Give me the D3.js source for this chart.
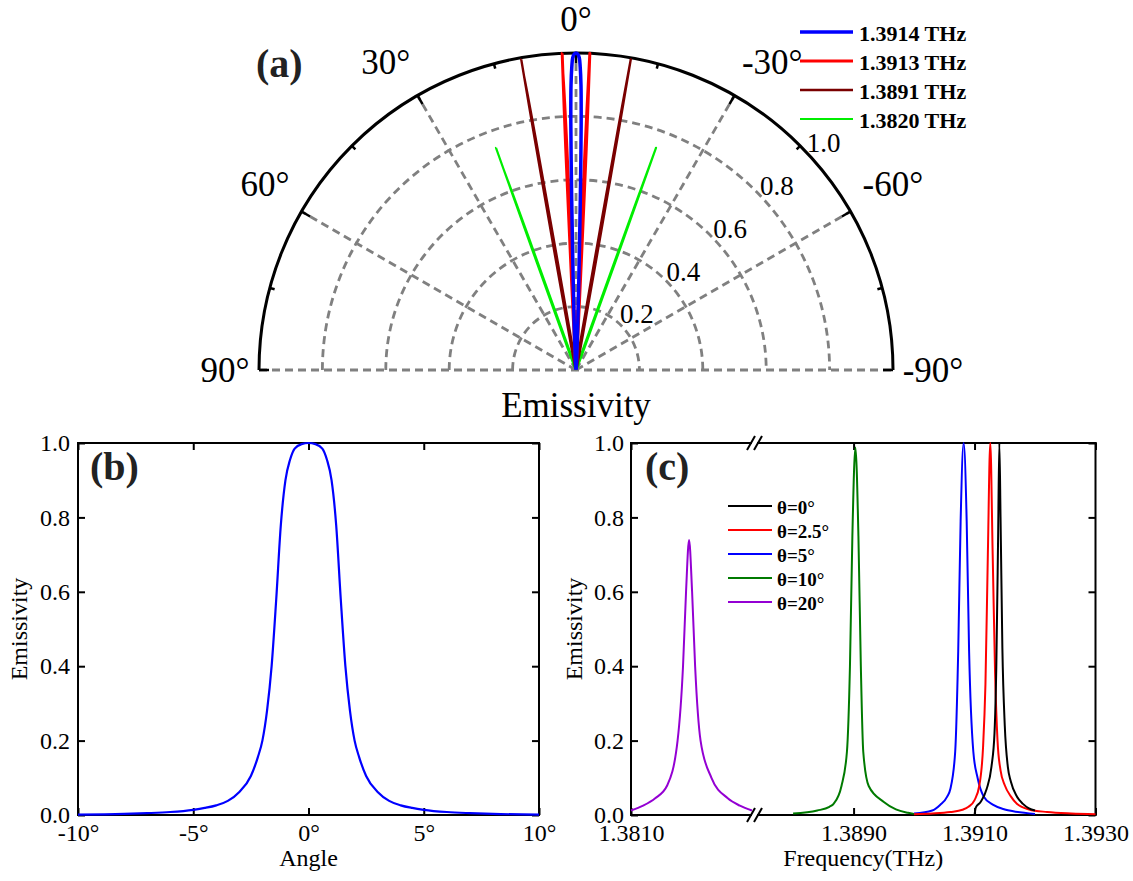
<!DOCTYPE html>
<html>
<head>
<meta charset="utf-8">
<script src="https://cdn.jsdelivr.net/npm/d3@7"></script>
<style>
  body { margin: 0; background: #fff; }
  svg { display: block; }
  svg text { font-family: "Liberation Serif", "Times New Roman", serif !important; fill: #000; }
</style>
</head>
<body>
<svg id="fig" width="1133" height="881"></svg>
<script>
// ---- data ----

// (b) emissivity vs angle at 1.3914 THz (also the blue lobe of (a))
const bAngle = [-10, -8, -7, -6, -5, -4.5, -4, -3.5, -3, -2.5, -2.2, -2, -1.8, -1.6, -1.4, -1.2, -1, -0.8, -0.6, -0.3, 0,
                0.3, 0.6, 0.8, 1, 1.2, 1.4, 1.6, 1.8, 2, 2.2, 2.5, 3, 3.5, 4, 4.5, 5, 6, 7, 8, 10];
const bEmis  = [0.001, 0.003, 0.005, 0.008, 0.014, 0.019, 0.026, 0.038, 0.062, 0.105, 0.155, 0.2, 0.28, 0.40, 0.58, 0.78, 0.90, 0.955, 0.985, 0.997, 1.0,
                0.997, 0.985, 0.955, 0.90, 0.78, 0.58, 0.40, 0.28, 0.2, 0.155, 0.105, 0.062, 0.038, 0.026, 0.019, 0.014, 0.008, 0.005, 0.003, 0.001];
const bTicks = [-10, -5, 0, 5, 10];

// (a) other lobes: angle (deg) / emissivity
const redAngle = [-10, -7, -5, -4, -3.5, -3, -2.8, -2.65, -2.5, -2.35, -2.2, -2, -1.5, -1, 0, 1, 1.5, 2, 2.2, 2.35, 2.5, 2.65, 2.8, 3, 3.5, 4, 5, 7, 10];
const redEmis  = [0.004, 0.01, 0.02, 0.035, 0.06, 0.15, 0.35, 0.7, 1.0, 0.7, 0.35, 0.2, 0.14, 0.12, 0.12, 0.12, 0.14, 0.2, 0.35, 0.7, 1.0, 0.7, 0.35, 0.15, 0.06, 0.035, 0.02, 0.01, 0.004];
const maroonAngle = [-20, -15, -12, -11, -10.4, -10.12, -10, -9.88, -9.6, -9, -8, -5, 0, 5, 8, 9, 9.6, 9.88, 10, 10.12, 10.4, 11, 12, 15, 20];
const maroonEmis  = [0.005, 0.015, 0.05, 0.12, 0.35, 0.75, 0.995, 0.75, 0.35, 0.12, 0.05, 0.012, 0.005, 0.012, 0.05, 0.12, 0.35, 0.75, 0.995, 0.75, 0.35, 0.12, 0.05, 0.015, 0.005];
const limeAngle = [-30, -25, -21.5, -20.4, -20.0, -19.8, -19.6, -19.2, -18, -15, -10, 0, 10, 15, 18, 19.2, 19.6, 19.8, 20.0, 20.4, 21.5, 25, 30];
const limeEmis  = [0.005, 0.015, 0.05, 0.15, 0.4, 0.745, 0.4, 0.15, 0.05, 0.015, 0.005, 0.003, 0.005, 0.015, 0.05, 0.15, 0.4, 0.745, 0.4, 0.15, 0.05, 0.015, 0.005];
const polarLabels = ['1.3914 THz', '1.3913 THz', '1.3891 THz', '1.3820 THz'];
const polarRings = [0.2, 0.4, 0.6, 0.8, 1.0];
const polarSpokes = [90, 60, 30, 0, -30, -60, -90];

// (c) emissivity vs frequency (THz)
const f0 = [1.3910, 1.39102, 1.3911, 1.3912, 1.39128, 1.39133, 1.39136, 1.39139, 1.39141, 1.39143, 1.39146, 1.3915, 1.39155, 1.3916, 1.3917, 1.3918, 1.3919, 1.3920];
const e0 = [0.0, 0.02, 0.035, 0.07, 0.13, 0.22, 0.4, 0.75, 1.0, 0.8, 0.45, 0.24, 0.13, 0.09, 0.05, 0.03, 0.018, 0.012];
const f25 = [1.3900, 1.3903, 1.3906, 1.3908, 1.3909, 1.3910, 1.39108, 1.39114, 1.39118, 1.39122, 1.39126, 1.3913, 1.39134, 1.39138, 1.39143, 1.3915, 1.3916, 1.3917, 1.3919, 1.3922, 1.3926, 1.3930];
const e25 = [0.002, 0.004, 0.008, 0.014, 0.022, 0.04, 0.08, 0.18, 0.35, 0.7, 1.0, 0.7, 0.38, 0.2, 0.12, 0.08, 0.05, 0.03, 0.015, 0.008, 0.004, 0.002];
const f5 = [1.3900, 1.3903, 1.39043, 1.39055, 1.3906, 1.39068, 1.39073, 1.39077, 1.39082, 1.39087, 1.39091, 1.39098, 1.39105, 1.39115, 1.39131, 1.3915, 1.39164, 1.3920];
const e5 = [0.004, 0.012, 0.027, 0.05, 0.07, 0.17, 0.44, 0.79, 1.0, 0.79, 0.44, 0.17, 0.1, 0.05, 0.027, 0.015, 0.01, 0.003];
const f10 = [1.3880, 1.3884, 1.3886, 1.38867, 1.3888, 1.38889, 1.38894, 1.38898, 1.38903, 1.38908, 1.38912, 1.38916, 1.38925, 1.3895, 1.3897, 1.3899, 1.3900];
const e10 = [0.004, 0.012, 0.022, 0.03, 0.078, 0.17, 0.4, 0.75, 0.988, 0.75, 0.4, 0.17, 0.078, 0.035, 0.015, 0.006, 0.003];
const f20 = [1.3810, 1.3812, 1.3814, 1.3816, 1.38177, 1.38186, 1.38191, 1.38196, 1.38201, 1.38206, 1.38215, 1.38233, 1.3826, 1.3828, 1.3830];
const e20 = [0.012, 0.025, 0.045, 0.08, 0.2, 0.4, 0.6, 0.739, 0.6, 0.4, 0.2, 0.1, 0.045, 0.025, 0.012];
const cLabels = ['θ=0°', 'θ=2.5°', 'θ=5°', 'θ=10°', 'θ=20°'];
const cTicksLeft = [1.3810];
const cTicksRight = [1.3890, 1.3910, 1.3930];
const yTicks = [0, 0.2, 0.4, 0.6, 0.8, 1.0];

const zip = (a, b) => a.map((v, i) => [v, b[i]]);

const svg = d3.select('#fig');

// ================= (a) polar =================
const cx = 576, cy = 370, R = 317;
const rP = d3.scaleLinear().domain([0, 1]).range([0, R]);
const rad = a => -a * Math.PI / 180;            // positive angles to the left
const pt = (a, r) => [r * Math.sin(rad(a)), -r * Math.cos(rad(a))];

const gP = svg.append('g').attr('transform', `translate(${cx},${cy})`);
const GRID = '#808080';

polarRings.slice(0, 4).forEach(v => {
  const p = d3.path();
  p.arc(0, 0, rP(v), Math.PI, 2 * Math.PI);
  gP.append('path').attr('d', p.toString()).attr('fill', 'none')
    .attr('stroke', GRID).attr('stroke-width', 2.8).attr('stroke-dasharray', '8,5');
});
polarSpokes.filter(a => Math.abs(a) < 90).forEach(a => {
  const [x, y] = pt(a, R);
  gP.append('line').attr('x1', 0).attr('y1', 0).attr('x2', x).attr('y2', y)
    .attr('stroke', GRID).attr('stroke-width', 2.8).attr('stroke-dasharray', '8,5');
});
gP.append('line').attr('x1', -R).attr('y1', 0).attr('x2', R).attr('y2', 0)
  .attr('stroke', GRID).attr('stroke-width', 2.8).attr('stroke-dasharray', '8,5');

// outer arc + ticks
{
  const p = d3.path();
  p.arc(0, 0, R, Math.PI, 2 * Math.PI);
  gP.append('path').attr('d', p.toString()).attr('fill', 'none').attr('stroke', '#000').attr('stroke-width', 3);
}
d3.range(-90, 91, 15).forEach(a => {
  const len = a % 30 === 0 ? 10 : 5;
  const [x1, y1] = pt(a, R), [x2, y2] = pt(a, R - len);
  gP.append('line').attr('x1', x1).attr('y1', y1).attr('x2', x2).attr('y2', y2)
    .attr('stroke', '#000').attr('stroke-width', 2.5);
});

// angle labels
const nudge = {0: 0, 30: 1.7, 60: -0.8, 90: 0};
polarSpokes.forEach(a => {
  const abs = Math.abs(a);
  const off = abs === 0 || abs === 90 ? 34 : 45;
  const [x, y] = pt(Math.sign(a) * (abs + nudge[abs]), R + off);
  gP.append('text').attr('x', x + (a < 0 ? 6 : 0)).attr('y', y)
    .attr('text-anchor', 'middle').attr('dominant-baseline', 'central')
    .style('font-size', '35px').text(a + '°');
});
// radial labels
polarRings.forEach(v => {
  const [x, y] = pt(-47.5, rP(v) + 19);
  gP.append('text').attr('x', x).attr('y', y)
    .attr('text-anchor', 'middle').attr('dominant-baseline', 'central')
    .style('font-size', '27px').text(v.toFixed(1));
});

const radial = d3.lineRadial()
  .angle(d => rad(d[0])).radius(d => rP(d[1]))
  .curve(d3.curveCatmullRom.alpha(0.5));
const polarSeries = [
  {data: zip(limeAngle, limeEmis), color: '#00ee00', w: 2.2},
  {data: zip(maroonAngle, maroonEmis), color: '#7a0000', w: 2.4},
  {data: zip(redAngle, redEmis), color: '#ff0000', w: 3},
  {data: zip(bAngle, bEmis), color: '#0000ff', w: 3.5}
];
polarSeries.forEach(s => {
  gP.append('path').attr('d', radial(s.data)).attr('fill', 'none')
    .attr('stroke', s.color).attr('stroke-width', s.w).attr('stroke-linejoin', 'round');
});

svg.append('text').attr('x', cx).attr('y', 417).attr('text-anchor', 'middle')
  .style('font-size', '35px').text('Emissivity');
svg.append('text').attr('x', 256).attr('y', 77)
  .style('font-size', '40px').style('font-weight', 'bold').style('fill', '#222').text('(a)');

// legend (a)
const legA = svg.append('g').attr('transform', 'translate(800,32)');
[polarSeries[3], polarSeries[2], polarSeries[1], polarSeries[0]].forEach((s, i) => {
  const g = legA.append('g').attr('transform', `translate(0,${i * 29})`);
  g.append('line').attr('x1', 0).attr('x2', 53).attr('stroke', s.color).attr('stroke-width', s.w);
  g.append('text').attr('x', 59).attr('y', 1).attr('dominant-baseline', 'central')
    .style('font-size', '22px').style('font-weight', 'bold').text(polarLabels[i]);
});

// ================= shared axis helpers =================
function styleAxis(g) {
  g.select('.domain').remove();
  g.attr('font-family', null).attr('font-size', null);
  g.selectAll('.tick line').attr('stroke', '#000').attr('stroke-width', 2);
  g.selectAll('.tick text').style('font-size', '24px').attr('fill', '#000');
}

// ================= (b) =================
const xB = d3.scaleLinear().domain([-10, 10]).range([78, 539]);
const yB = d3.scaleLinear().domain([0, 1]).range([815, 443]);
const gB = svg.append('g');

gB.append('g').attr('transform', 'translate(0,815)')
  .call(d3.axisBottom(xB).tickValues(bTicks).tickFormat(d => d + '°').tickSizeInner(-7).tickSizeOuter(0).tickPadding(9))
  .call(styleAxis);
gB.append('g').attr('transform', 'translate(0,443)')
  .call(d3.axisTop(xB).tickValues(bTicks).tickFormat('').tickSizeInner(-7).tickSizeOuter(0))
  .call(styleAxis);
gB.append('g').attr('transform', 'translate(78,0)')
  .call(d3.axisLeft(yB).tickValues(yTicks).tickFormat(d3.format('.1f')).tickSizeInner(-7).tickSizeOuter(0).tickPadding(8))
  .call(styleAxis);
gB.append('g').attr('transform', 'translate(539,0)')
  .call(d3.axisRight(yB).tickValues(yTicks).tickFormat('').tickSizeInner(-7).tickSizeOuter(0))
  .call(styleAxis);
gB.append('rect').attr('x', 78).attr('y', 443).attr('width', 539 - 78).attr('height', 815 - 443)
  .attr('fill', 'none').attr('stroke', '#000').attr('stroke-width', 2);

const lineB = d3.line().x(d => xB(d[0])).y(d => yB(d[1])).curve(d3.curveMonotoneX);
gB.append('path').attr('d', lineB(zip(bAngle, bEmis))).attr('fill', 'none')
  .attr('stroke', '#0000ff').attr('stroke-width', 2.2);

gB.append('text').attr('x', 90).attr('y', 480)
  .style('font-size', '40px').style('font-weight', 'bold').style('fill', '#222').text('(b)');
gB.append('text').attr('x', (78 + 539) / 2).attr('y', 866).attr('text-anchor', 'middle')
  .style('font-size', '24px').text('Angle');
gB.append('text').attr('transform', `translate(27,${(443 + 815) / 2}) rotate(-90)`).attr('text-anchor', 'middle')
  .style('font-size', '24px').text('Emissivity');

// ================= (c) =================
const cL = 631, cR = 1095.5, brk = 755;
const xCL = d3.scaleLinear().domain([1.3810, 1.38305]).range([cL, brk]);
const xCR = d3.scaleLinear().domain([1.38737, 1.3930]).range([brk, cR]);
const yC = d3.scaleLinear().domain([0, 1]).range([815, 443]);
const gC = svg.append('g');
const fmt4 = d3.format('.4f');

[[xCL, cTicksLeft], [xCR, cTicksRight]].forEach(([sc, tv]) => {
  gC.append('g').attr('transform', 'translate(0,815)')
    .call(d3.axisBottom(sc).tickValues(tv).tickFormat(fmt4).tickSizeInner(-7).tickSizeOuter(0).tickPadding(9))
    .call(styleAxis);
  gC.append('g').attr('transform', 'translate(0,443)')
    .call(d3.axisTop(sc).tickValues(tv).tickFormat('').tickSizeInner(-7).tickSizeOuter(0))
    .call(styleAxis);
});
gC.append('g').attr('transform', `translate(${cL},0)`)
  .call(d3.axisLeft(yC).tickValues(yTicks).tickFormat(d3.format('.1f')).tickSizeInner(-7).tickSizeOuter(0).tickPadding(7))
  .call(styleAxis);
gC.append('g').attr('transform', `translate(${cR},0)`)
  .call(d3.axisRight(yC).tickValues(yTicks).tickFormat('').tickSizeInner(-7).tickSizeOuter(0))
  .call(styleAxis);

// frame with axis break
const frame = [
  [cL, 443, cL, 815], [cR, 443, cR, 815],
  [cL, 443, brk - 4, 443], [brk + 3, 443, cR, 443],
  [cL, 815, brk - 4, 815], [brk + 3, 815, cR, 815]
];
frame.forEach(s => gC.append('line').attr('x1', s[0]).attr('y1', s[1]).attr('x2', s[2]).attr('y2', s[3])
  .attr('stroke', '#000').attr('stroke-width', 2).attr('stroke-linecap', 'square'));
[443, 815].forEach(y => {
  [-4, 3].forEach(dx => {
    gC.append('line').attr('x1', brk + dx - 4).attr('y1', y + 7).attr('x2', brk + dx + 4).attr('y2', y - 7)
      .attr('stroke', '#000').attr('stroke-width', 2);
  });
});

const cSeries = [
  {f: f0, e: e0, color: '#000000', x: xCR},
  {f: f25, e: e25, color: '#ff0000', x: xCR},
  {f: f5, e: e5, color: '#0000ff', x: xCR},
  {f: f10, e: e10, color: '#007a00', x: xCR},
  {f: f20, e: e20, color: '#9400d3', x: xCL}
];
[cSeries[4], cSeries[3], cSeries[2], cSeries[1], cSeries[0]].forEach(s => {
  const ln = d3.line().x(d => s.x(d[0])).y(d => yC(d[1])).curve(d3.curveMonotoneX);
  gC.append('path').attr('d', ln(zip(s.f, s.e))).attr('fill', 'none')
    .attr('stroke', s.color).attr('stroke-width', 2);
});

// legend (c)
const legC = gC.append('g').attr('transform', 'translate(728,506)');
cSeries.forEach((s, i) => {
  const g = legC.append('g').attr('transform', `translate(0,${i * 24})`);
  g.append('line').attr('x1', 0).attr('x2', 44).attr('stroke', s.color).attr('stroke-width', 2);
  g.append('text').attr('x', 49).attr('y', 1).attr('dominant-baseline', 'central')
    .style('font-size', '19px').style('font-weight', 'bold').text(cLabels[i]);
});

gC.append('text').attr('x', 645).attr('y', 480)
  .style('font-size', '40px').style('font-weight', 'bold').style('fill', '#222').text('(c)');
gC.append('text').attr('x', (cL + cR) / 2).attr('y', 866).attr('text-anchor', 'middle')
  .style('font-size', '24px').text('Frequency(THz)');
gC.append('text').attr('transform', `translate(582,${(443 + 815) / 2}) rotate(-90)`).attr('text-anchor', 'middle')
  .style('font-size', '24px').text('Emissivity');
</script>
</body>
</html>
